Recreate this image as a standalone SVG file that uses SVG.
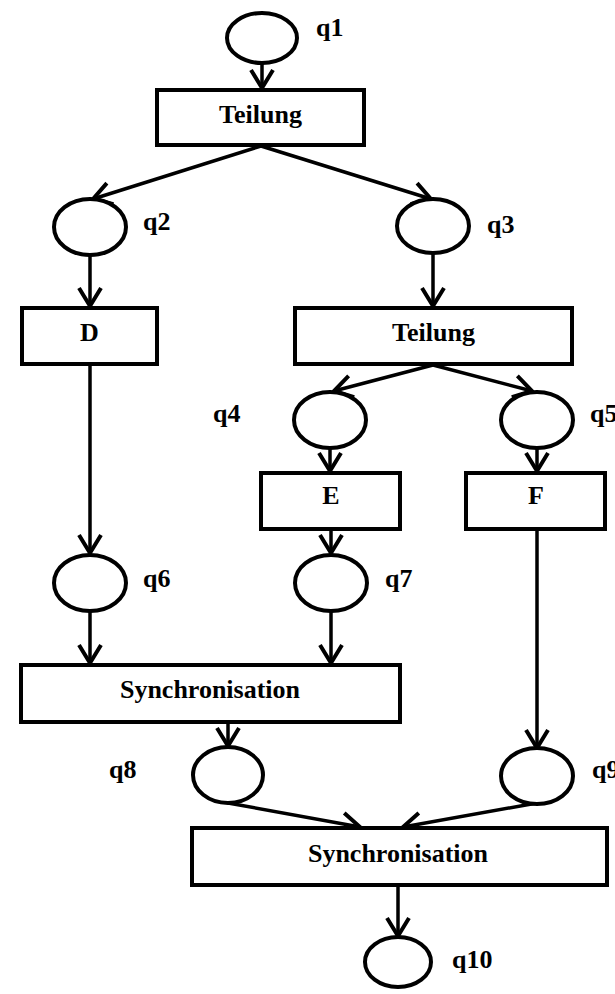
<svg xmlns="http://www.w3.org/2000/svg" width="615" height="994" viewBox="0 0 615 994">
  <defs>
    <style>
      .place { fill: #fff; stroke: #000; stroke-width: 4; }
      .trans { fill: #fff; stroke: #000; stroke-width: 4; }
      .lbl { font-family: "Liberation Serif", "Times New Roman", serif; font-weight: bold; font-size: 26px; fill: #000; }
      .mid { text-anchor: middle; }
      .edge { fill: none; stroke: #000; stroke-width: 3.5; marker-end: url(#ah); }
    </style>
    <marker id="ah" viewBox="-22 -14 24 28" markerWidth="24" markerHeight="28" refX="0" refY="0" orient="auto" markerUnits="userSpaceOnUse">
      <path d="M-18,-11 L0,0 L-18,11" fill="none" stroke="#000" stroke-width="4"/>
    </marker>
  </defs>
  <rect width="615" height="994" fill="#fff"/>

  <!-- connectors -->
  <g id="connectors">
    <line class="edge" x1="262" y1="63" x2="262" y2="88"/>
    <line class="edge" x1="261" y1="146" x2="93" y2="199"/>
    <line class="edge" x1="261" y1="146" x2="431" y2="199"/>
    <line class="edge" x1="90" y1="255" x2="90" y2="306"/>
    <line class="edge" x1="433" y1="254" x2="433" y2="306"/>
    <line class="edge" x1="433" y1="365" x2="334" y2="391"/>
    <line class="edge" x1="433" y1="365" x2="532" y2="391"/>
    <line class="edge" x1="330" y1="448" x2="330" y2="471"/>
    <line class="edge" x1="537" y1="448" x2="537" y2="471"/>
    <line class="edge" x1="90" y1="365" x2="90" y2="553"/>
    <line class="edge" x1="331" y1="530" x2="331" y2="553"/>
    <line class="edge" x1="537" y1="530" x2="537" y2="748"/>
    <line class="edge" x1="90" y1="611" x2="90" y2="663"/>
    <line class="edge" x1="331" y1="611" x2="331" y2="663"/>
    <line class="edge" x1="228" y1="723" x2="228" y2="746"/>
    <line class="edge" x1="228" y1="803" x2="360" y2="827"/>
    <line class="edge" x1="537" y1="803" x2="403" y2="827"/>
    <line class="edge" x1="398" y1="886" x2="398" y2="936"/>
  </g>

  <!-- places -->
  <g id="q1"><ellipse class="place" cx="262" cy="38" rx="35" ry="25"/><text class="lbl" x="316" y="36">q1</text></g>
  <g id="q2"><ellipse class="place" cx="90" cy="227" rx="36" ry="28"/><text class="lbl" x="143" y="230">q2</text></g>
  <g id="q3"><ellipse class="place" cx="433" cy="226" rx="36" ry="27"/><text class="lbl" x="487" y="233">q3</text></g>
  <g id="q4"><ellipse class="place" cx="330" cy="420" rx="36" ry="28"/><text class="lbl" x="213" y="422">q4</text></g>
  <g id="q5"><ellipse class="place" cx="537" cy="420" rx="36" ry="28"/><text class="lbl" x="590" y="422">q5</text></g>
  <g id="q6"><ellipse class="place" cx="90" cy="583" rx="36" ry="28"/><text class="lbl" x="143" y="587">q6</text></g>
  <g id="q7"><ellipse class="place" cx="331" cy="583" rx="36" ry="28"/><text class="lbl" x="385" y="587">q7</text></g>
  <g id="q8"><ellipse class="place" cx="228" cy="775" rx="35" ry="28"/><text class="lbl" x="109" y="778">q8</text></g>
  <g id="q9"><ellipse class="place" cx="537" cy="776" rx="36" ry="28"/><text class="lbl" x="592" y="778">q9</text></g>
  <g id="q10"><ellipse class="place" cx="398" cy="962" rx="33" ry="25"/><text class="lbl" x="452" y="968">q10</text></g>

  <!-- transitions -->
  <g id="t-teilung1"><rect class="trans" x="157" y="90" width="207" height="55"/><text class="lbl mid" x="260.5" y="123">Teilung</text></g>
  <g id="t-d"><rect class="trans" x="22" y="308" width="135" height="56"/><text class="lbl mid" x="89.5" y="341">D</text></g>
  <g id="t-teilung2"><rect class="trans" x="295" y="308" width="277" height="56"/><text class="lbl mid" x="433.5" y="341">Teilung</text></g>
  <g id="t-e"><rect class="trans" x="261" y="473" width="139" height="56"/><text class="lbl mid" x="331" y="504">E</text></g>
  <g id="t-f"><rect class="trans" x="466" y="473" width="139" height="56"/><text class="lbl mid" x="536" y="504">F</text></g>
  <g id="t-sync1"><rect class="trans" x="21" y="665" width="379" height="57"/><text class="lbl mid" x="210" y="698">Synchronisation</text></g>
  <g id="t-sync2"><rect class="trans" x="192" y="828" width="415" height="57"/><text class="lbl mid" x="398" y="862">Synchronisation</text></g>
</svg>
